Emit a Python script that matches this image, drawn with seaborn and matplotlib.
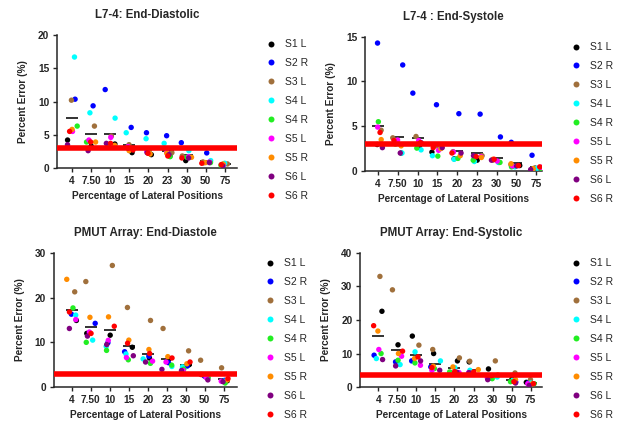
import numpy as np
import pandas as pd
import matplotlib
matplotlib.use("Agg")
import matplotlib.pyplot as plt
import seaborn as sns

# ==============================================================================
# values (percent error per lateral position)
# rows follow the subject order, columns follow the position order
# ==============================================================================

positions = ["4", "7.50", "10", "15", "20", "23", "30", "50", "75"]
subjects = ["S1 L", "S2 R", "S3 L", "S4 L", "S4 R", "S5 L", "S5 R", "S6 L", "S6 R"]
subject_colors = ["#000000", "#0000ff", "#a0703c", "#00ffff", "#22ee22",
                  "#ff00ff", "#ff8c00", "#800080", "#ff0000"]

l74_diastolic = [
    [4.2, 3.3, 3.6, 2.3, 2.0, 1.8, 1.1, 0.8, 0.5],
    [10.35, 9.35, 11.8, 6.1, 5.3, 4.85, 3.8, 2.26, 0.6],
    [10.2, 6.3, 4.8, 3.5, 2.6, 2.3, 1.8, 0.9, 0.6],
    [16.7, 8.3, 7.5, 5.3, 4.4, 3.7, 2.6, 1.1, 0.7],
    [6.3, 3.9, 3.5, 2.8, 2.4, 1.7, 1.6, 0.8, 0.4],
    [5.5, 4.2, 4.6, 3.2, 2.5, 2.4, 1.7, 0.9, 0.5],
    [5.8, 3.9, 3.4, 2.6, 2.1, 2.2, 1.6, 0.8, 0.6],
    [3.5, 2.6, 3.7, 3.0, 2.3, 2.0, 1.5, 0.8, 0.3],
    [5.5, 3.9, 3.7, 2.7, 2.2, 1.8, 1.5, 0.7, 0.5],
]

l74_systolic = [
    [2.95, 2.0, 2.8, 2.1, 1.35, 1.2, 0.95, 0.6, 0.3],
    [14.3, 11.85, 8.7, 7.4, 6.4, 6.35, 3.8, 3.2, 1.75],
    [4.55, 3.7, 3.85, 2.8, 2.15, 1.7, 1.2, 0.7, 0.3],
    [3.0, 2.0, 2.35, 1.7, 1.3, 1.05, 0.95, 0.45, 0.3],
    [5.5, 3.0, 2.55, 1.65, 1.4, 1.2, 0.95, 0.45, 0.3],
    [4.9, 3.45, 3.4, 2.3, 2.1, 1.6, 1.1, 0.55, 0.4],
    [3.5, 2.8, 3.1, 2.5, 1.7, 1.5, 1.3, 0.8, 0.25],
    [2.6, 2.0, 3.15, 2.6, 2.0, 1.7, 1.2, 0.55, 0.15],
    [4.3, 3.4, 3.15, 2.6, 2.0, 1.6, 1.3, 0.6, 0.45],
]

pmut_diastolic = [
    [14.9, 12.0, 11.6, 8.9, 6.5, 6.3, 5.0, 2.5, 1.4],
    [16.3, 14.25, 9.9, 7.9, 6.9, 5.45, 4.7, 2.5, 1.5],
    [21.3, 23.6, 27.2, 17.8, 14.9, 13.1, 8.1, 6.0, 4.3],
    [16.1, 10.5, 9.1, 7.4, 6.3, 4.6, 4.5, 2.2, 1.3],
    [17.7, 10.0, 8.2, 6.1, 5.3, 4.9, 4.0, 2.1, 0.9],
    [15.1, 12.3, 10.45, 6.6, 5.8, 5.6, 3.7, 2.1, 1.3],
    [24.1, 15.6, 15.7, 10.5, 8.4, 6.8, 5.2, 2.8, 1.6],
    [13.1, 11.4, 9.5, 7.0, 5.6, 3.95, 3.7, 1.6, 1.2],
    [16.8, 12.0, 13.6, 9.8, 7.5, 6.5, 5.6, 2.8, 1.9],
]

pmut_systolic = [
    [22.6, 12.6, 15.2, 10.0, 7.8, 7.5, 5.4, 2.4, 1.4],
    [9.5, 7.5, 7.8, 6.0, 4.3, 4.4, 2.7, 1.5, 1.3],
    [33.0, 29.0, 12.5, 11.2, 8.7, 7.7, 7.8, 4.2, 2.2],
    [8.5, 6.7, 10.5, 7.8, 5.8, 5.0, 3.0, 2.0, 1.2],
    [10.0, 8.0, 7.2, 5.5, 4.5, 4.2, 2.5, 1.6, 1.0],
    [11.2, 9.2, 6.5, 5.0, 4.3, 4.3, 2.8, 1.5, 1.0],
    [16.7, 10.0, 8.5, 6.2, 6.0, 5.2, 3.6, 2.2, 1.0],
    [8.2, 6.3, 7.8, 5.0, 4.4, 4.3, 2.2, 1.2, 0.5],
    [18.3, 10.7, 9.0, 5.8, 4.6, 4.5, 3.4, 1.6, 1.0],
]

titles = ["L7-4: End-Diastolic", "L7-4 : End-Systole",
          "PMUT Array: End-Diastole", "PMUT Array: End-Systolic"]
threshold = [3, 3, 3, 3.5]
y_top = [20, 15, 30, 40]
y_step = [5, 5, 10, 10]


def to_frame(table):
    rows = []
    for subj, vals in zip(subjects, table):
        for pos, v in zip(positions, vals):
            rows.append({"pos": pos, "subject": subj, "err": v})
    return pd.DataFrame(rows)


sns.set_style("ticks")
plt.rcParams["font.family"] = ["Liberation Sans", "DejaVu Sans"]
np.random.seed(7)

fig = plt.figure(figsize=(6.23, 4.23), dpi=100)

boxes = [(0.0915, 0.603, 0.289, 0.314),
         (0.586, 0.596, 0.284, 0.317),
         (0.086, 0.085, 0.294, 0.317),
         (0.578, 0.085, 0.292, 0.317)]
xlims = [(-0.79, 8.64), (-0.66, 8.3), (-0.96, 8.68), (-0.96, 8.6)]
legend_xy = [(262, 35), (567, 38), (261, 254), (567, 254)]

palette = dict(zip(subjects, subject_colors))

for i, table in enumerate([l74_diastolic, l74_systolic, pmut_diastolic, pmut_systolic]):
    df = to_frame(table)
    ax = fig.add_axes(boxes[i])

    sns.pointplot(data=df, x="pos", y="err", order=positions, color="#222222",
                  markers="_", linestyle="none", errorbar=None,
                  markersize=9, markeredgewidth=1.3, zorder=1.5, ax=ax)
    sns.stripplot(data=df, x="pos", y="err", hue="subject", order=positions,
                  hue_order=subjects, palette=palette, jitter=0.28, size=3.9,
                  linewidth=0, zorder=3, ax=ax)
    ax.axhline(threshold[i], color="#ff0000", lw=4, zorder=4)

    ax.set_xlim(*xlims[i])
    ax.set_ylim(0, y_top[i])
    ax.set_yticks(np.arange(0, y_top[i] + 1, y_step[i]))
    ax.set_title(titles[i], fontsize=8.3, fontweight="bold", pad=12)
    ax.set_xlabel("Percentage of Lateral Positions", fontsize=7.3, fontweight="bold", labelpad=4)
    ax.set_ylabel("Percent Error (%)", fontsize=7.3, fontweight="bold", labelpad=7)
    ax.tick_params(labelsize=7.3, length=3, width=1, pad=2.5)
    for lab in ax.get_xticklabels() + ax.get_yticklabels():
        lab.set_fontweight("bold")
    sns.despine(ax=ax)
    for s in ["left", "bottom"]:
        ax.spines[s].set_linewidth(1.1)

    lx, ly = legend_xy[i]
    sns.move_legend(ax, "upper left", bbox_to_anchor=(lx / 623, 1 - ly / 423),
                    bbox_transform=fig.transFigure, frameon=False, title=None,
                    fontsize=7.5, labelspacing=0.86, handlelength=1.0,
                    handletextpad=0.8, borderaxespad=0, markerscale=1.1)

fig.savefig("out.png", dpi=100)
